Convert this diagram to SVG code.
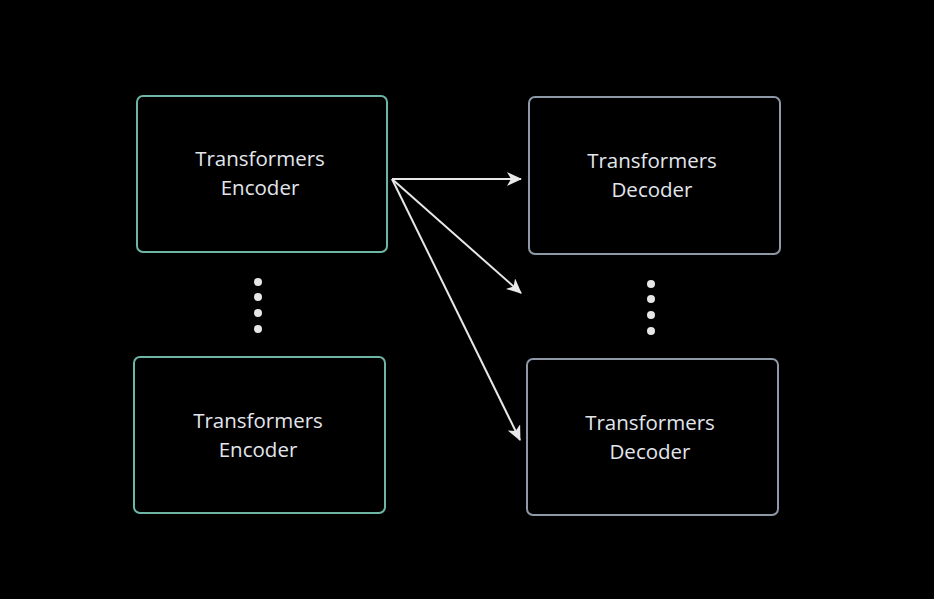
<svg xmlns="http://www.w3.org/2000/svg" width="934" height="599" viewBox="0 0 934 599">
<defs>
<style>
.enc{fill:#000;stroke:#6fb5a6;stroke-width:2}
.dec{fill:#000;stroke:#8d99a6;stroke-width:2}
.t{fill:#e2e6ec;font-family:"Open Sans","Noto Sans",sans-serif;font-size:20.5px;text-anchor:middle}
.c{stroke:#e8e8e8;stroke-width:2;fill:none}
.dot{fill:#e6e6e6}
</style>
<marker id="ah" markerWidth="15" markerHeight="14" viewBox="0 0 15 14" refX="14" refY="7" orient="auto" markerUnits="userSpaceOnUse">
<path d="M0,0 L15,7 L0,14 L4,7 Z" fill="#e8e8e8"/>
</marker>
</defs>
<rect width="934" height="599" fill="#000"/>
<g id="enc1"><rect class="enc" x="137" y="96" width="250" height="156" rx="6"/><text class="t" x="260" y="166">Transformers</text><text class="t" x="260" y="195">Encoder</text></g>
<g id="enc2"><rect class="enc" x="134" y="357" width="251" height="156" rx="6"/><text class="t" x="258" y="428">Transformers</text><text class="t" x="258" y="457">Encoder</text></g>
<g id="dec1"><rect class="dec" x="529" y="97" width="251" height="157" rx="6"/><text class="t" x="652" y="168">Transformers</text><text class="t" x="652" y="197">Decoder</text></g>
<g id="dec2"><rect class="dec" x="527" y="359" width="251" height="156" rx="6"/><text class="t" x="650" y="430">Transformers</text><text class="t" x="650" y="459">Decoder</text></g>
<g id="dots1"><circle class="dot" cx="258" cy="282" r="4"/><circle class="dot" cx="258" cy="297" r="4"/><circle class="dot" cx="258" cy="313" r="4"/><circle class="dot" cx="258" cy="329" r="4"/></g>
<g id="dots2"><circle class="dot" cx="651" cy="284" r="4"/><circle class="dot" cx="651" cy="299" r="4"/><circle class="dot" cx="651" cy="315" r="4"/><circle class="dot" cx="651" cy="331" r="4"/></g>
<g id="connectors">
<line class="c" x1="392" y1="179" x2="521" y2="179" marker-end="url(#ah)"/>
<line class="c" x1="392" y1="179" x2="521" y2="293" marker-end="url(#ah)"/>
<line class="c" x1="392" y1="179" x2="520" y2="440" marker-end="url(#ah)"/>
</g>
</svg>
